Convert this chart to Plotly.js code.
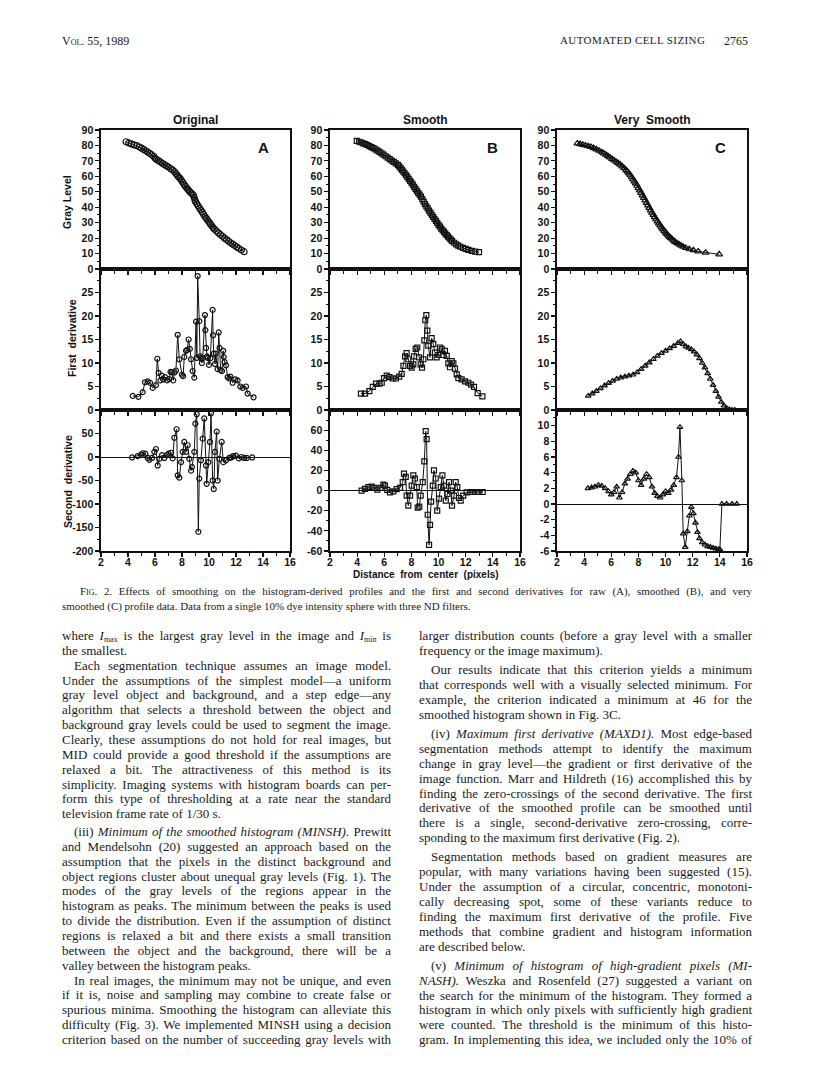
<!DOCTYPE html>
<html>
<head>
<meta charset="utf-8">
<script src="https://cdn.plot.ly/plotly-3.0.1.min.js"></script>
<style>
  body { margin: 0; background: #fff; }
  #page { position: relative; width: 816px; height: 1078px; overflow: hidden; background: #fff; }
  #chart { position: absolute; left: 0; top: 0; width: 816px; height: 1078px; }
  .t { position: absolute; font-family: "Liberation Serif", "Times New Roman", serif; color: #1a1a1a; z-index: 2; }
  .ln { height: 16px; line-height: 16px; font-size: 13px; white-space: nowrap; }
  sub { font-size: 8px; line-height: 0; vertical-align: -2px; }
</style>
</head>
<body>
<div id="page">
  <div id="chart"></div>
  <div class="t" style="left:62px; top:34px; font-size:12px; font-variant:small-caps;">Vol. 55, 1989</div>
  <div class="t" style="left:560px; top:34px; font-size:11px; letter-spacing:0.4px;">AUTOMATED CELL SIZING</div>
  <div class="t" style="left:724px; top:34px; font-size:12px;">2765</div>
</div>
<script>
var W = 816, H = 1078;

// ---- data ----
// top row: gray level profile
var origX = [3.85, 4.05, 4.25, 4.45, 4.65, 4.85, 5.0, 5.15, 5.3, 5.45, 5.6, 5.75, 5.9, 6.0, 6.1, 6.25, 6.4, 6.55, 6.7, 6.85, 7.0, 7.15, 7.3, 7.45, 7.55, 7.65, 7.75, 7.85, 7.95, 8.05, 8.15, 8.25, 8.35, 8.45, 8.55, 8.65, 8.75, 8.85, 8.9, 8.95, 9.0, 9.1, 9.2, 9.3, 9.4, 9.5, 9.6, 9.7, 9.8, 9.9, 10.0, 10.1, 10.2, 10.3, 10.4, 10.55, 10.7, 10.85, 11.0, 11.15, 11.3, 11.45, 11.6, 11.75, 11.9, 12.05, 12.2, 12.4, 12.6];
var origGray = [82.4, 81.6, 81.0, 80.4, 79.9, 79.0, 78.2, 77.4, 76.6, 75.8, 74.9, 74.0, 73.0, 71.8, 71.0, 70.2, 69.3, 68.4, 67.6, 66.8, 66.0, 65.0, 64.2, 63.0, 61.8, 60.6, 59.6, 58.7, 57.5, 56.2, 54.8, 53.6, 52.4, 51.4, 50.3, 49.4, 48.6, 47.8, 46.4, 44.8, 43.6, 42.2, 40.8, 39.4, 38.2, 36.8, 35.4, 34.0, 32.8, 31.6, 30.4, 29.2, 28.0, 26.8, 25.8, 24.6, 23.4, 22.2, 21.2, 20.0, 19.0, 18.0, 17.0, 16.1, 15.2, 14.3, 13.4, 12.3, 11.2];

var smoothX = [3.97, 4.15, 4.3, 4.45, 4.6, 4.75, 4.9, 5.05, 5.2, 5.35, 5.5, 5.65, 5.8, 5.95, 6.1, 6.25, 6.4, 6.55, 6.7, 6.85, 7.0, 7.1, 7.2, 7.3, 7.4, 7.5, 7.6, 7.7, 7.8, 7.9, 8.0, 8.1, 8.2, 8.3, 8.4, 8.5, 8.6, 8.7, 8.8, 8.9, 9.0, 9.1, 9.2, 9.3, 9.4, 9.5, 9.6, 9.7, 9.8, 9.9, 10.0, 10.1, 10.2, 10.3, 10.4, 10.5, 10.6, 10.7, 10.8, 10.9, 11.0, 11.15, 11.3, 11.45, 11.6, 11.8, 12.0, 12.2, 12.45, 12.7, 12.98];
var smoothGray = [83.0, 82.4, 81.9, 81.4, 80.9, 80.3, 79.6, 78.9, 78.2, 77.4, 76.6, 75.8, 74.9, 74.0, 73.0, 72.1, 71.1, 70.2, 69.3, 68.4, 67.4, 66.4, 65.3, 64.2, 63.1, 62.0, 60.8, 59.6, 58.3, 57.1, 55.9, 54.6, 53.2, 51.9, 50.6, 49.3, 48.1, 46.8, 45.2, 43.6, 42.0, 40.6, 39.2, 37.8, 36.5, 35.1, 33.8, 32.5, 31.2, 29.9, 28.6, 27.4, 26.2, 25.1, 24.0, 22.9, 21.9, 20.9, 19.9, 19.0, 18.1, 17.0, 16.0, 15.1, 14.4, 13.7, 13.0, 12.4, 11.8, 11.3, 10.9];

var vsmoothX = [3.5, 3.7, 3.9, 4.1, 4.3, 4.5, 4.7, 4.9, 5.1, 5.3, 5.45, 5.6, 5.75, 5.9, 6.05, 6.2, 6.35, 6.5, 6.65, 6.8, 6.95, 7.1, 7.2, 7.3, 7.4, 7.5, 7.6, 7.7, 7.8, 7.9, 8.0, 8.1, 8.2, 8.3, 8.4, 8.5, 8.6, 8.7, 8.8, 8.9, 9.0, 9.1, 9.2, 9.3, 9.4, 9.5, 9.6, 9.7, 9.8, 9.9, 10.0, 10.1, 10.2, 10.3, 10.4, 10.5, 10.6, 10.7, 10.85, 11.0, 11.15, 11.3, 11.5, 11.75, 12.05, 12.4, 12.95, 13.95];
var vsmoothGray = [81.3, 80.9, 80.4, 80.0, 79.5, 79.0, 78.3, 77.5, 76.6, 75.6, 74.8, 74.0, 73.1, 72.2, 71.3, 70.4, 69.5, 68.6, 67.6, 66.5, 65.3, 64.0, 63.0, 61.9, 60.7, 59.4, 58.1, 56.8, 55.4, 53.9, 52.4, 50.9, 49.3, 47.7, 46.1, 44.4, 42.8, 41.2, 39.6, 38.0, 36.5, 35.0, 33.6, 32.2, 30.8, 29.5, 28.2, 27.0, 25.8, 24.7, 23.6, 22.6, 21.6, 20.7, 19.9, 19.1, 18.3, 17.6, 16.7, 15.9, 15.1, 14.4, 13.6, 12.8, 12.2, 11.4, 10.6, 9.5];

// middle row: first derivative
var origD1X = [4.35, 4.77, 5.09, 5.26, 5.46, 5.63, 5.83, 6.07, 6.17, 6.27, 6.4, 6.5, 6.62, 6.75, 6.9, 7.05, 7.15, 7.25, 7.35, 7.45, 7.55, 7.68, 7.8, 8.0, 8.08, 8.17, 8.3, 8.38, 8.49, 8.58, 8.67, 8.79, 8.91, 9.04, 9.1, 9.16, 9.28, 9.34, 9.4, 9.47, 9.53, 9.7, 9.73, 9.78, 9.85, 9.9, 10.0, 10.1, 10.27, 10.3, 10.35, 10.45, 10.5, 10.64, 10.72, 10.78, 10.86, 10.96, 11.05, 11.09, 11.15, 11.26, 11.38, 11.5, 11.58, 11.75, 11.95, 12.12, 12.32, 12.49, 12.74, 12.86, 13.3];
var origD1 = [3.0, 2.8, 3.8, 5.9, 6.1, 5.8, 4.7, 5.3, 10.9, 7.9, 6.3, 7.3, 6.5, 7.0, 6.3, 6.6, 8.1, 8.0, 6.3, 8.0, 8.4, 16.0, 10.8, 7.5, 7.2, 11.3, 12.6, 12.8, 15.0, 13.0, 10.8, 8.3, 6.9, 18.8, 11.1, 28.5, 18.9, 11.4, 11.0, 10.0, 11.0, 20.2, 17.0, 13.2, 11.4, 11.1, 9.6, 11.0, 21.3, 15.9, 12.0, 9.8, 12.0, 8.7, 16.5, 13.2, 8.5, 8.3, 12.6, 11.3, 10.2, 9.5, 7.0, 6.7, 7.1, 5.8, 6.5, 6.3, 5.0, 4.7, 5.0, 3.5, 2.7];

var smoothD1X = [4.28, 4.58, 4.9, 5.15, 5.39, 5.64, 5.81, 5.98, 6.18, 6.38, 6.62, 6.86, 7.1, 7.28, 7.41, 7.53, 7.65, 7.77, 7.9, 8.02, 8.14, 8.19, 8.31, 8.43, 8.56, 8.68, 8.78, 8.88, 8.95, 9.02, 9.1, 9.17, 9.24, 9.37, 9.49, 9.61, 9.73, 9.86, 9.98, 10.1, 10.23, 10.35, 10.47, 10.6, 10.72, 10.84, 10.97, 11.09, 11.21, 11.34, 11.46, 11.7, 11.95, 12.19, 12.39, 12.61, 12.88, 13.23];
var smoothD1 = [3.5, 3.5, 4.0, 4.9, 5.6, 5.6, 5.8, 6.8, 7.3, 7.0, 6.7, 6.7, 7.1, 7.7, 9.4, 11.4, 12.1, 10.8, 9.4, 9.0, 9.7, 11.4, 13.0, 13.3, 11.2, 9.7, 9.0, 10.8, 14.8, 19.1, 20.2, 16.9, 13.7, 11.2, 15.3, 14.0, 12.2, 11.2, 11.7, 13.3, 13.0, 11.7, 12.6, 11.5, 9.9, 9.1, 10.4, 9.9, 8.8, 7.6, 6.8, 6.5, 6.1, 5.8, 5.4, 4.9, 3.6, 2.9];

var vsmoothD1X = [4.3, 4.6, 4.9, 5.2, 5.5, 5.8, 6.1, 6.4, 6.7, 7.0, 7.3, 7.6, 7.9, 8.2, 8.5, 8.8, 9.1, 9.4, 9.7, 10.0, 10.3, 10.6, 10.9, 11.1, 11.3, 11.5, 11.7, 11.9, 12.1, 12.3, 12.5, 12.7, 12.9, 13.1, 13.3, 13.5, 13.7, 13.9, 14.1, 14.3, 14.5, 14.7, 14.9, 15.1];
var vsmoothD1 = [3.0, 3.5, 4.0, 4.6, 5.2, 5.7, 6.2, 6.6, 6.9, 7.1, 7.3, 7.5, 8.0, 8.7, 9.4, 10.1, 10.8, 11.5, 12.1, 12.6, 13.1, 13.6, 14.2, 14.6, 14.0, 13.5, 13.2, 12.9, 12.4, 11.8, 11.0, 10.0, 9.0, 7.8, 6.6, 5.3, 4.0, 2.8, 1.7, 0.9, 0.4, 0.1, 0.0, 0.0];

// bottom row: second derivative
var origD2X = [4.3, 4.72, 4.96, 5.09, 5.28, 5.46, 5.58, 5.78, 5.95, 6.07, 6.2, 6.32, 6.52, 6.69, 6.86, 7.0, 7.19, 7.31, 7.43, 7.6, 7.68, 7.8, 7.93, 8.05, 8.17, 8.3, 8.42, 8.54, 8.67, 8.74, 8.91, 8.99, 9.09, 9.21, 9.28, 9.4, 9.53, 9.65, 9.78, 9.83, 9.95, 10.07, 10.15, 10.27, 10.35, 10.44, 10.57, 10.64, 10.77, 10.94, 11.06, 11.26, 11.5, 11.65, 11.8, 12.0, 12.2, 12.4, 12.6, 12.8, 13.2];
var origD2 = [-1, 2, 5, 8, 7, -2, -6, -2, 11, 17, -18, -4, 4, -2, 4, 7, 9, -3, 41, 59, -39, -44, -11, 11, 32, 11, 25, -4, -29, -21, 11, 71, 91, -159, -46, -7, 39, 82, -18, -57, -11, 32, 93, -50, -68, 11, 54, -50, -4, 32, -11, -7, -2, -1, 2, 3, -3, 0, -2, -2, -1];

var smoothD2X = [4.33, 4.58, 4.82, 5.07, 5.27, 5.49, 5.73, 5.93, 6.05, 6.22, 6.42, 6.67, 6.91, 7.16, 7.36, 7.45, 7.58, 7.65, 7.77, 7.9, 8.02, 8.14, 8.26, 8.39, 8.46, 8.58, 8.68, 8.83, 8.95, 9.05, 9.12, 9.2, 9.3, 9.37, 9.45, 9.57, 9.66, 9.79, 9.9, 10.03, 10.16, 10.28, 10.4, 10.53, 10.65, 10.77, 10.9, 10.99, 11.14, 11.26, 11.38, 11.5, 11.63, 11.82, 12.07, 12.32, 12.56, 12.81, 13.0, 13.25];
var smoothD2 = [0, 1.7, 3.4, 4, 2.7, 1, 2.7, 6, 5, 0.7, -1.7, -0.7, 1.4, 2.7, 8.4, 16.9, 13.5, -5, -15, -5, 5, 15, 12, 3.4, -17, -16, -5, 8.4, 29, 59, 51, -24, -54, -34, -11, 5, 20, 12, -20, -8, 3.4, 15, 5, -10, -3.4, 8.4, 0, -15, -5, 8.4, 3.4, -7.4, -10, -5, -1.7, -1.4, -1.4, -1.4, -1.4, -1.4];

var vsmoothD2X = [4.28, 4.55, 4.8, 5.05, 5.3, 5.55, 5.8, 6.0, 6.2, 6.4, 6.6, 6.8, 7.0, 7.2, 7.4, 7.6, 7.8, 8.0, 8.2, 8.4, 8.6, 8.8, 9.0, 9.2, 9.4, 9.6, 9.8, 10.0, 10.2, 10.4, 10.6, 10.8, 10.95, 11.06, 11.2, 11.3, 11.45, 11.6, 11.75, 11.9, 12.05, 12.2, 12.35, 12.5, 12.7, 12.9, 13.1, 13.3, 13.5, 13.7, 13.9, 14.0, 14.15, 14.5, 14.9, 15.25];
var vsmoothD2 = [2.0, 2.1, 2.2, 2.4, 2.3, 2.0, 1.6, 1.2, 1.5, 2.2, 0.8, 1.5, 2.6, 3.2, 3.8, 4.2, 4.0, 3.0, 2.4, 3.2, 3.8, 3.4, 2.2, 1.4, 1.0, 0.8, 1.2, 1.6, 1.4, 1.8, 2.4, 3.4, 6.0, 9.8, 3.0, -3.8, -5.5, -3.5, -1.5, -0.4, -1.2, -2.4, -3.6, -4.4, -4.9, -5.2, -5.4, -5.5, -5.6, -5.7, -5.8, -5.8, 0.0, 0.0, 0.0, 0.0];

// tick labels
var grayTicks = [0, 10, 20, 30, 40, 50, 60, 70, 80, 90];
var firstTicks = [0, 5, 10, 15, 20, 25];
var secondTicksA = [-200, -150, -100, -50, 0, 50];
var secondTextA = ['-200', '-150', '-100', '-50', '0', '50'];
var secondTicksB = [-60, -40, -20, 0, 20, 40, 60];
var secondTextB = ['-60', '-40', '-20', '0', '20', '40', '60'];
var secondTicksC = [-6, -4, -2, 0, 2, 4, 6, 8, 10];
var secondTextC = ['-6', '-4', '-2', '0', '2', '4', '6', '8', '10'];

var colTitles = ['Original', 'Smooth', 'Very  Smooth'];
var panelLetters = ['A', 'B', 'C'];
var rowTitles = ['Gray Level', 'First  derivative', 'Second  derivative'];

// ---- panel boxes in page pixels ----
var cols = [[101, 290], [330, 520], [557, 747]];
var rows = [[130, 269], [269, 410], [410, 551]];

var ink = '#111';
var sans = 'Liberation Sans, Arial, sans-serif';
var tickFont = {family: sans, size: 10.5, color: ink, weight: 'bold'};

function id(k) { return k === 1 ? '' : String(k); }

function series(x, y, k, symbol, size) {
    return {
        x: x, y: y, type: 'scatter', mode: 'lines+markers',
        xaxis: 'x' + id(k), yaxis: 'y' + id(k),
        line: {color: ink, width: 1},
        marker: {symbol: symbol, size: size, color: ink, line: {width: 1.2, color: ink}},
        cliponaxis: false, showlegend: false, hoverinfo: 'skip'
    };
}

var data = [
    series(origX, origGray, 1, 'circle-open', 6),
    series(smoothX, smoothGray, 2, 'square-open', 5),
    series(vsmoothX, vsmoothGray, 3, 'triangle-up-open', 6),
    series(origD1X, origD1, 4, 'circle-open', 5),
    series(smoothD1X, smoothD1, 5, 'square-open', 5),
    series(vsmoothD1X, vsmoothD1, 6, 'triangle-up-open', 5),
    series(origD2X, origD2, 7, 'circle-open', 5),
    series(smoothD2X, smoothD2, 8, 'square-open', 5),
    series(vsmoothD2X, vsmoothD2, 9, 'triangle-up-open', 5)
];

var yCfg = [
    {range: [0, 90], tickvals: grayTicks, ticktext: grayTicks.map(String), minor: 5},
    {range: [0, 90], tickvals: grayTicks, ticktext: grayTicks.map(String), minor: 5},
    {range: [0, 90], tickvals: grayTicks, ticktext: grayTicks.map(String), minor: 5},
    {range: [0, 30], tickvals: firstTicks, ticktext: firstTicks.map(String), minor: 2.5},
    {range: [0, 30], tickvals: firstTicks, ticktext: firstTicks.map(String), minor: 2.5},
    {range: [0, 30], tickvals: firstTicks, ticktext: firstTicks.map(String), minor: 2.5},
    {range: [-200, 100], tickvals: secondTicksA, ticktext: secondTextA, minor: 25, zero: true},
    {range: [-60, 80], tickvals: secondTicksB, ticktext: secondTextB, minor: 10, zero: true},
    {range: [-6, 12], tickvals: secondTicksC, ticktext: secondTextC, minor: 1, zero: true}
];

var layout = {
    width: W, height: H,
    margin: {l: 0, r: 0, t: 0, b: 0},
    paper_bgcolor: 'rgba(0,0,0,0)', plot_bgcolor: 'rgba(0,0,0,0)',
    showlegend: false,
    annotations: []
};

for (var r = 0; r < 3; r++) {
    for (var c = 0; c < 3; c++) {
        var k = r * 3 + c + 1;
        var cfg = yCfg[k - 1];
        layout['xaxis' + id(k)] = {
            domain: [cols[c][0] / W, cols[c][1] / W],
            anchor: 'y' + id(k),
            range: [2, 16], tick0: 2, dtick: 2,
            showticklabels: r === 2, tickfont: tickFont, ticklabelstandoff: -3,
            ticks: 'outside', ticklen: 4, tickwidth: 1.2, tickcolor: ink,
            minor: {tick0: 1, dtick: 1, ticks: 'outside', ticklen: 3, tickwidth: 1, tickcolor: ink},
            showline: true, linewidth: 1.6, linecolor: ink, mirror: true,
            showgrid: false, zeroline: false, fixedrange: true
        };
        layout['yaxis' + id(k)] = {
            domain: [1 - rows[r][1] / H, 1 - rows[r][0] / H],
            anchor: 'x' + id(k),
            range: cfg.range, tickmode: 'array', tickvals: cfg.tickvals, ticktext: cfg.ticktext,
            tickfont: tickFont,
            ticks: 'outside', ticklen: 4, tickwidth: 1.2, tickcolor: ink,
            minor: {dtick: cfg.minor, tick0: 0, ticks: 'outside', ticklen: 2, tickwidth: 1, tickcolor: ink},
            showline: true, linewidth: 1.6, linecolor: ink, mirror: true,
            showgrid: false,
            zeroline: !!cfg.zero, zerolinecolor: ink, zerolinewidth: 1,
            fixedrange: true
        };
    }
}

function note(text, px, py, size, extra) {
    var a = {
        text: text, x: px / W, y: 1 - py / H, xref: 'paper', yref: 'paper',
        showarrow: false, xanchor: 'center', yanchor: 'middle',
        font: {family: sans, size: size, color: ink, weight: 'bold'}
    };
    for (var key in extra) a[key] = extra[key];
    layout.annotations.push(a);
}

for (var c2 = 0; c2 < 3; c2++) {
    var mid = (cols[c2][0] + cols[c2][1]) / 2;
    note(colTitles[c2], mid, 120, 12, {});
    note(panelLetters[c2], cols[c2][1] - 27, 148, 15, {});
}
note(rowTitles[0], 67, 202, 10.5, {textangle: -90});
note(rowTitles[1], 72, 338, 10.5, {textangle: -90});
note(rowTitles[2], 68, 482, 10.5, {textangle: -90});
note('Distance  from  center  (pixels)', 426, 574, 10, {});

Plotly.newPlot('chart', data, layout, {staticPlot: true, displayModeBar: false});

// ---- caption and body text ----
var captionLines = [
    '<span style="font-variant:small-caps;">Fig.</span> 2. Effects of smoothing on the histogram-derived profiles and the first and second derivatives for raw (A), smoothed (B), and very',
    'smoothed (C) profile data. Data from a single 10% dye intensity sphere with three ND filters.|'
];
var leftLines = [
    'where <i>I</i><sub>max</sub> is the largest gray level in the image and <i>I</i><sub>min</sub> is',
    'the smallest.|',
    '>Each segmentation technique assumes an image model.',
    'Under the assumptions of the simplest model—a uniform',
    'gray level object and background, and a step edge—any',
    'algorithm that selects a threshold between the object and',
    'background gray levels could be used to segment the image.',
    'Clearly, these assumptions do not hold for real images, but',
    'MID could provide a good threshold if the assumptions are',
    'relaxed a bit. The attractiveness of this method is its',
    'simplicity. Imaging systems with histogram boards can per-',
    'form this type of thresholding at a rate near the standard',
    'television frame rate of 1/30 s.|',
    '>(iii) <i>Minimum of the smoothed histogram (MINSH).</i> Prewitt',
    'and Mendelsohn (20) suggested an approach based on the',
    'assumption that the pixels in the distinct background and',
    'object regions cluster about unequal gray levels (Fig. 1). The',
    'modes of the gray levels of the regions appear in the',
    'histogram as peaks. The minimum between the peaks is used',
    'to divide the distribution. Even if the assumption of distinct',
    'regions is relaxed a bit and there exists a small transition',
    'between the object and the background, there will be a',
    'valley between the histogram peaks.|',
    '>In real images, the minimum may not be unique, and even',
    'if it is, noise and sampling may combine to create false or',
    'spurious minima. Smoothing the histogram can alleviate this',
    'difficulty (Fig. 3). We implemented MINSH using a decision',
    'criterion based on the number of succeeding gray levels with'
];
var rightLines = [
    'larger distribution counts (before a gray level with a smaller',
    'frequency or the image maximum).|',
    '>Our results indicate that this criterion yields a minimum',
    'that corresponds well with a visually selected minimum. For',
    'example, the criterion indicated a minimum at 46 for the',
    'smoothed histogram shown in Fig. 3C.|',
    '>(iv) <i>Maximum first derivative (MAXD1).</i> Most edge-based',
    'segmentation methods attempt to identify the maximum',
    'change in gray level—the gradient or first derivative of the',
    'image function. Marr and Hildreth (16) accomplished this by',
    'finding the zero-crossings of the second derivative. The first',
    'derivative of the smoothed profile can be smoothed until',
    'there is a single, second-derivative zero-crossing, corre-',
    'sponding to the maximum first derivative (Fig. 2).|',
    '>Segmentation methods based on gradient measures are',
    'popular, with many variations having been suggested (15).',
    'Under the assumption of a circular, concentric, monotoni-',
    'cally decreasing spot, some of these variants reduce to',
    'finding the maximum first derivative of the profile. Five',
    'methods that combine gradient and histogram information',
    'are described below.|',
    '>(v) <i>Minimum of histogram of high-gradient pixels (MI-</i>',
    '<i>NASH).</i> Weszka and Rosenfeld (27) suggested a variant on',
    'the search for the minimum of the histogram. They formed a',
    'histogram in which only pixels with sufficiently high gradient',
    'were counted. The threshold is the minimum of this histo-',
    'gram. In implementing this idea, we included only the 10% of'
];

// lines are justified by hand: word-spacing fills the column width
function placeLines(lines, left, width, firstY, step, gaps, size, firstIndent) {
    var page = document.getElementById('page');
    var y = firstY;
    lines.forEach(function(s, i) {
        if (gaps[i]) y += gaps[i];
        var indent = s.charAt(0) === '>' ? 12 : 0;
        if (i === 0 && firstIndent) indent = firstIndent;
        var end = s.charAt(s.length - 1) === '|';
        s = s.replace(/^>/, '').replace(/\|$/, '');
        var div = document.createElement('div');
        div.className = 't ln';
        div.style.left = (left + indent) + 'px';
        div.style.top = (y - 9) + 'px';
        if (size) div.style.fontSize = size + 'px';
        var span = document.createElement('span');
        span.innerHTML = s;
        div.appendChild(span);
        page.appendChild(div);
        var avail = width - indent;
        var natural = span.getBoundingClientRect().width;
        var spaces = (span.textContent.match(/ /g) || []).length;
        if (spaces && (!end || natural > avail)) {
            span.style.wordSpacing = ((avail - natural) / spaces) + 'px';
        }
        y += step;
    });
}

placeLines(captionLines, 62, 690, 592, 14.8, {}, 10.95, 18);
placeLines(leftLines, 62, 329, 637, 14.85, {13: 3});
placeLines(rightLines, 419, 333, 637, 14.85, {2: 4.5, 6: 4.5, 14: 4.5, 21: 4.5});
</script>
</body>
</html>
